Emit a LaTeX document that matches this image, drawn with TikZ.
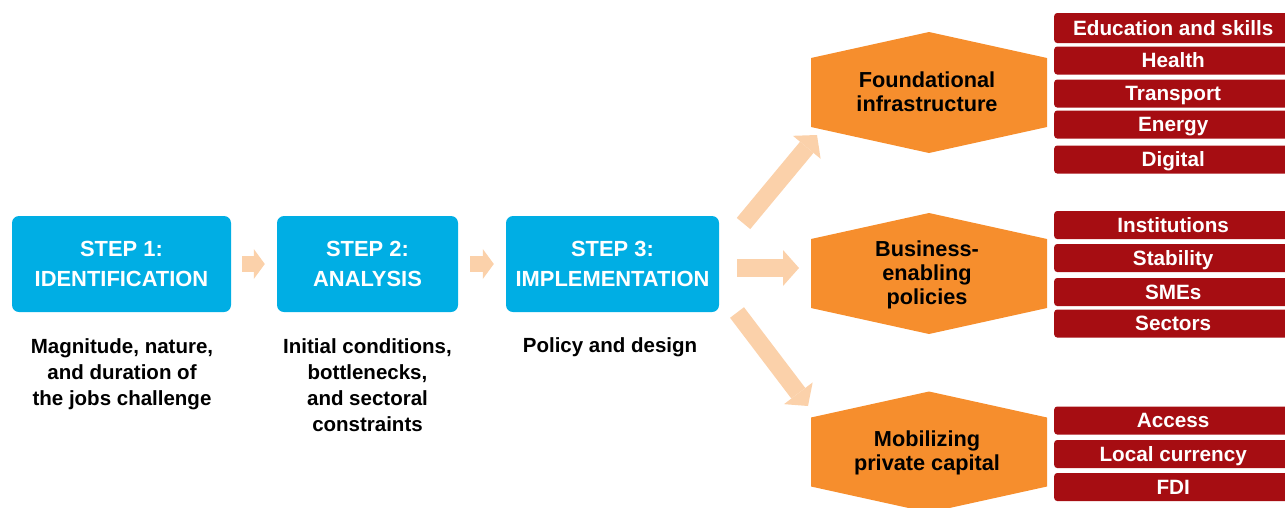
\documentclass[tikz,border=0pt]{standalone}
\usepackage{fontspec}
\setmainfont{Liberation Sans}
\usetikzlibrary{arrows.meta,calc}

\definecolor{stepblue}{RGB}{0,174,228}
\definecolor{hexorange}{RGB}{246,142,45}
\definecolor{flowpeach}{RGB}{251,209,170}
\definecolor{tagred}{RGB}{166,13,18}

\tikzset{
  stepbox/.style={fill=stepblue, rounded corners=7pt, minimum height=96pt,
    align=center, text=white, inner sep=0pt,
    font=\bfseries\fontsize{21.9}{30}\selectfont},
  stepnote/.style={align=center, text=black, inner sep=0pt,
    font=\bfseries\fontsize{20.5}{26}\selectfont},
  hexlabel/.style={align=center, text=black, inner sep=0pt,
    font=\bfseries\fontsize{21.7}{24}\selectfont},
  hexfill/.style={fill=hexorange},
  tag/.style={fill=tagred, rounded corners=3pt, anchor=west,
    minimum width=238pt, minimum height=28pt, inner sep=0pt,
    text height=14.8pt, text depth=0pt, text=white,
    font=\bfseries\fontsize{20.7}{24}\selectfont},
  smallflow/.style={draw=flowpeach, line width=16pt,
    -{Triangle[length=11pt,width=30pt,line width=0pt]}},
  bigflow/.style={draw=flowpeach, line width=17.5pt,
    -{Triangle[length=16pt,width=36pt,line width=0pt]}},
}

\begin{document}
\begin{tikzpicture}[x=1pt,y=-1pt]
\useasboundingbox (0,0) rectangle (1285,507);
\clip (0,0) rectangle (1285,507);

% the three steps
\node[stepbox, minimum width=219pt] (s1) at (121.5,264) {STEP 1:\\IDENTIFICATION};
\node[stepbox, minimum width=181pt] (s2) at (367.5,264) {STEP 2:\\ANALYSIS};
\node[stepbox, minimum width=213pt] (s3) at (612.5,264) {STEP 3:\\IMPLEMENTATION};

\node[stepnote] (n1) at (122,374) {Magnitude, nature,\\and duration of\\the jobs challenge};
\node[stepnote] (n2) at (367.5,385) {Initial conditions,\\bottlenecks,\\and sectoral\\constraints};
\node[stepnote] (n3) at (610,347) {Policy and design};

\draw[smallflow] ([xshift=11pt]s1.east) -- ([xshift=-12pt]s2.west);
\draw[smallflow] ([xshift=12pt]s2.east) -- ([xshift=-12pt]s3.west);

% hexagons for the three areas
\path[hexfill] (929,92.5) ++(-118,-34.5) -- ++(118,-26) -- ++(118,26) -- ++(0,69) -- ++(-118,26) -- ++(-118,-26) -- cycle;
\path[hexfill] (929,273.5) ++(-118,-34.5) -- ++(118,-26) -- ++(118,26) -- ++(0,69) -- ++(-118,26) -- ++(-118,-26) -- cycle;
\path[hexfill] (929,452) ++(-118,-34.5) -- ++(118,-26) -- ++(118,26) -- ++(0,69) -- ++(-118,26) -- ++(-118,-26) -- cycle;

\node[hexlabel] (h1) at (927,92) {Foundational\\infrastructure};
\node[hexlabel] (h2) at (927,275) {Business-\\enabling\\policies};
\node[hexlabel] (h3) at (927,453) {Mobilizing\\private capital};

% flows from step 3 to the areas
\coordinate (upTail) at (743.5,223.5);
\coordinate (upTip) at (817,135);
\coordinate (midTail) at (737,268);
\coordinate (midTip) at (799,268);
\coordinate (dnTail) at (737,312.5);
\coordinate (dnTip) at (808,406);
\draw[bigflow] (upTail) -- (upTip);
\draw[bigflow] (midTail) -- (midTip);
\draw[bigflow] (dnTail) -- (dnTip);

% sector tags
\node[tag, minimum height=30pt] (t1) at (1054,28) {Education and skills};
\node[tag] (t2) at (1054,60.5) {Health};
\node[tag] (t3) at (1054,93.5) {Transport};
\node[tag] (t4) at (1054,124.5) {Energy};
\node[tag] (t5) at (1054,159.5) {Digital};

\node[tag] (t6) at (1054,225) {Institutions};
\node[tag] (t7) at (1054,258) {Stability};
\node[tag] (t8) at (1054,292) {SMEs};
\node[tag] (t9) at (1054,323.5) {Sectors};

\node[tag] (t10) at (1054,420.5) {Access};
\node[tag] (t11) at (1054,454) {Local currency};
\node[tag] (t12) at (1054,487) {FDI};
\end{tikzpicture}
\end{document}
